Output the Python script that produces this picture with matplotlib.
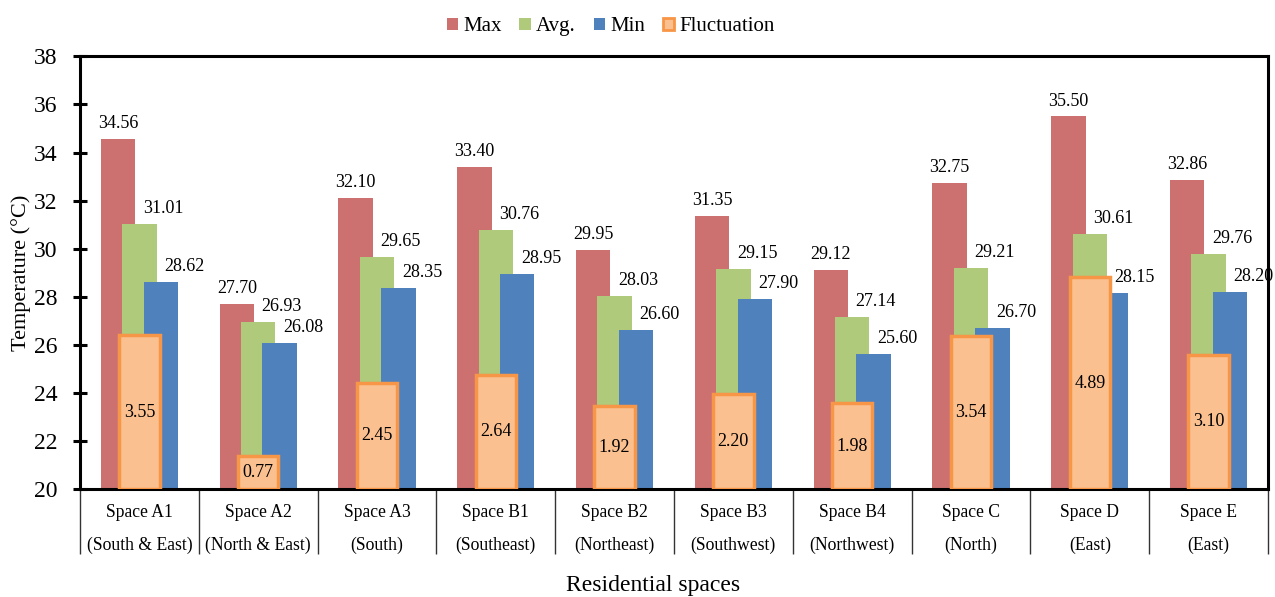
import numpy as np
import matplotlib
matplotlib.use("Agg")
import matplotlib.pyplot as plt
from matplotlib.patches import Patch

plt.rcParams['font.family'] = ['Liberation Serif', 'DejaVu Serif']

spaces = ['Space A1', 'Space A2', 'Space A3', 'Space B1', 'Space B2',
          'Space B3', 'Space B4', 'Space C', 'Space D', 'Space E']
orient = ['(South & East)', '(North & East)', '(South)', '(Southeast)', '(Northeast)',
          '(Southwest)', '(Northwest)', '(North)', '(East)', '(East)']
t_max = [34.56, 27.70, 32.10, 33.40, 29.95, 31.35, 29.12, 32.75, 35.50, 32.86]
t_avg = [31.01, 26.93, 29.65, 30.76, 28.03, 29.15, 27.14, 29.21, 30.61, 29.76]
t_min = [28.62, 26.08, 28.35, 28.95, 26.60, 27.90, 25.60, 26.70, 28.15, 28.20]
fluct = [3.55, 0.77, 2.45, 2.64, 1.92, 2.20, 1.98, 3.54, 4.89, 3.10]

c_max = '#CD7170'
c_avg = '#AECA7A'
c_min = '#4F81BD'
c_fl = '#FAC090'
c_fl_edge = '#F79646'

fig = plt.figure(figsize=(12.75, 5.97), dpi=100)
ax = fig.add_axes([0.0627, 0.181, 0.9318, 0.7245])

x = np.arange(len(spaces))
w = 0.29
off = 0.18

ax.bar(x - off, t_max, w, color=c_max, zorder=2)
ax.bar(x, t_avg, w, color=c_avg, zorder=3)
ax.bar(x + off, t_min, w, color=c_min, zorder=4)

for xi, v in zip(x, t_max):
    ax.annotate(f'{v:.2f}', (xi - off, v), xytext=(0, 5), textcoords='offset points',
                ha='center', va='bottom', fontsize=13, zorder=6)
for xi, v in zip(x, t_avg):
    ax.annotate(f'{v:.2f}', (xi + 0.2, v), xytext=(0, 5), textcoords='offset points',
                ha='center', va='bottom', fontsize=13, zorder=6)
for xi, v in zip(x, t_min):
    ax.annotate(f'{v:.2f}', (xi + off + 0.2, v), xytext=(0, 5), textcoords='offset points',
                ha='center', va='bottom', fontsize=13, zorder=6)

ax.set_ylim(20, 38)
ax.set_xlim(-0.5, len(spaces) - 0.5)
ax.set_yticks(np.arange(20, 39, 2))
ax.set_ylabel('Temperature (°C)', fontsize=16, labelpad=2)
ax.set_xlabel('Residential spaces', fontsize=17)
ax.xaxis.set_label_coords(0.482, -0.2)

ax.set_xticks(x)
ax.set_xticklabels([f'{s}\n{o}' for s, o in zip(spaces, orient)], fontsize=12.7)
for t in ax.get_xticklabels():
    t.set_linespacing(2.15)
ax.set_xticks(np.arange(-0.5, len(spaces), 1), minor=True)
ax.tick_params(axis='x', which='major', length=0, pad=11)
ax.tick_params(axis='x', which='minor', length=47, width=1, direction='out', color='#333333')
ax.tick_params(axis='y', which='major', length=10, width=2.2, direction='inout',
               labelsize=17, pad=11)

for s in ax.spines.values():
    s.set_linewidth(2.2)
    s.set_zorder(7)

# fluctuation on a hidden 0-10 scale
ax2 = ax.twinx()
ax2.set_ylim(0, 10)
ax2.set_yticks([])
for s in ax2.spines.values():
    s.set_visible(False)
ax2.bar(x, fluct, 0.34, color=c_fl, edgecolor=c_fl_edge, linewidth=2.5, zorder=5)
for xi, v in zip(x, fluct):
    ax2.text(xi, v / 2, f'{v:.2f}', ha='center', va='center', fontsize=13, zorder=6)

handles = [Patch(facecolor=c_max), Patch(facecolor=c_avg), Patch(facecolor=c_min),
           Patch(facecolor=c_fl, edgecolor=c_fl_edge, linewidth=2)]
fig.legend(handles, ['Max', 'Avg.', 'Min', 'Fluctuation'], loc='center',
           bbox_to_anchor=(0.479, 0.955), ncol=4, frameon=False, fontsize=15,
           handlelength=0.55, handleheight=0.55, handletextpad=0.25, columnspacing=0.85)

fig.savefig('out.png', dpi=100)
